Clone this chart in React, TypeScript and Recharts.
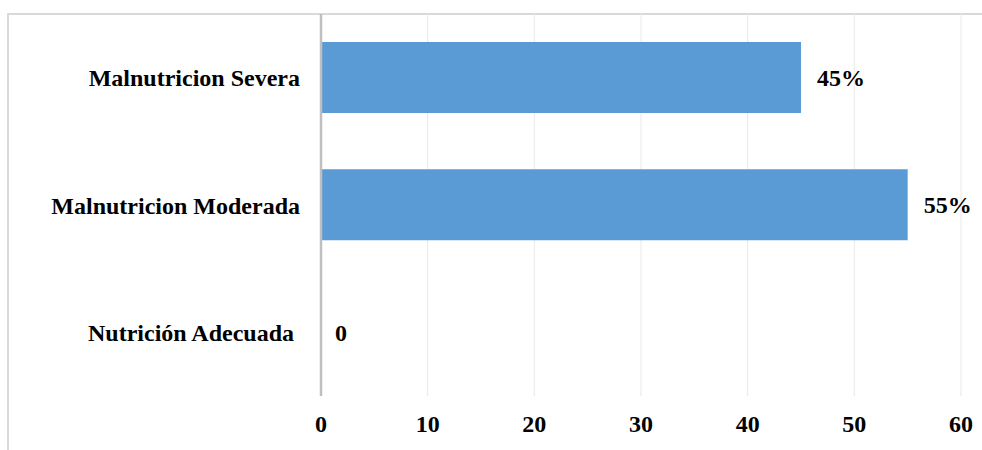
import React from "react";
import { BarChart, Bar, XAxis, YAxis, CartesianGrid, LabelList, Rectangle } from "recharts";

// Estado nutricional: porcentaje por categoría
const categories = ["Malnutricion Severa", "Malnutricion Moderada", "Nutrición Adecuada\u00a0"];
const values = [45, 55, 0];
const xTicks = [0, 10, 20, 30, 40, 50, 60];

const data = categories.map((name, i) => ({ name, value: values[i] }));

const FONT = "'Liberation Serif', 'Times New Roman', serif";
const textStyle = { fill: "#000", fontFamily: FONT, fontWeight: "bold", fontSize: 24 } as const;

const formatLabel = (v: number) => (v === 0 ? "0" : `${v}%`);

// Value label placed just past the end of each bar
const ValueLabel = (props: any) => {
  const { x, y, width, height, value } = props;
  const v = Number(value);
  const xe = Number(x) + (v === 0 ? 14 : Number(width || 0) + 16);
  const yc = Number(y) + Number(height || 0) / 2;
  return (
    <text x={xe} y={yc} dy="0.355em" textAnchor="start" style={textStyle}>
      {formatLabel(v)}
    </text>
  );
};

// Zero-valued categories keep their slot (for the label) but draw no rectangle
const BarShape = (props: any) => {
  const v = Number(props?.payload?.value);
  if (v === 0) return <g />;
  return <Rectangle {...props} />;
};

export default function App() {
  return (
    <div style={{ position: "absolute", left: 0, top: 0, width: 982, height: 450, overflow: "hidden", background: "#fff" }}>
      <div
        style={{
          position: "absolute",
          left: 7,
          top: 13,
          width: 990,
          height: 460,
          borderTop: "2px solid #d9d9d9",
          borderLeft: "2px solid #d9d9d9",
          boxSizing: "border-box",
        }}
      />
      <div style={{ position: "absolute", left: 9, top: 14 }}>
        <BarChart
          width={973}
          height={436}
          data={data}
          layout="vertical"
          margin={{ top: 0, right: 21, bottom: 0, left: 0 }}
        >
          <CartesianGrid horizontal={false} stroke="#e8e8e8" strokeWidth={1} />
          <XAxis
            type="number"
            domain={[0, 60]}
            ticks={xTicks}
            height={54}
            axisLine={false}
            tickLine={false}
            tickSize={0}
            tickMargin={19}
            tick={textStyle}
          />
          <YAxis
            type="category"
            dataKey="name"
            width={312}
            axisLine={{ stroke: "#bfbfbf", strokeWidth: 2.5 }}
            tickLine={false}
            tickSize={0}
            tickMargin={21}
            tick={textStyle}
          />
          <Bar
            dataKey="value"
            fill="#5b9bd5"
            barSize={71}
            minPointSize={1}
            shape={<BarShape />}
            isAnimationActive={false}
          >
            <LabelList dataKey="value" content={<ValueLabel />} />
          </Bar>
        </BarChart>
      </div>
    </div>
  );
}
